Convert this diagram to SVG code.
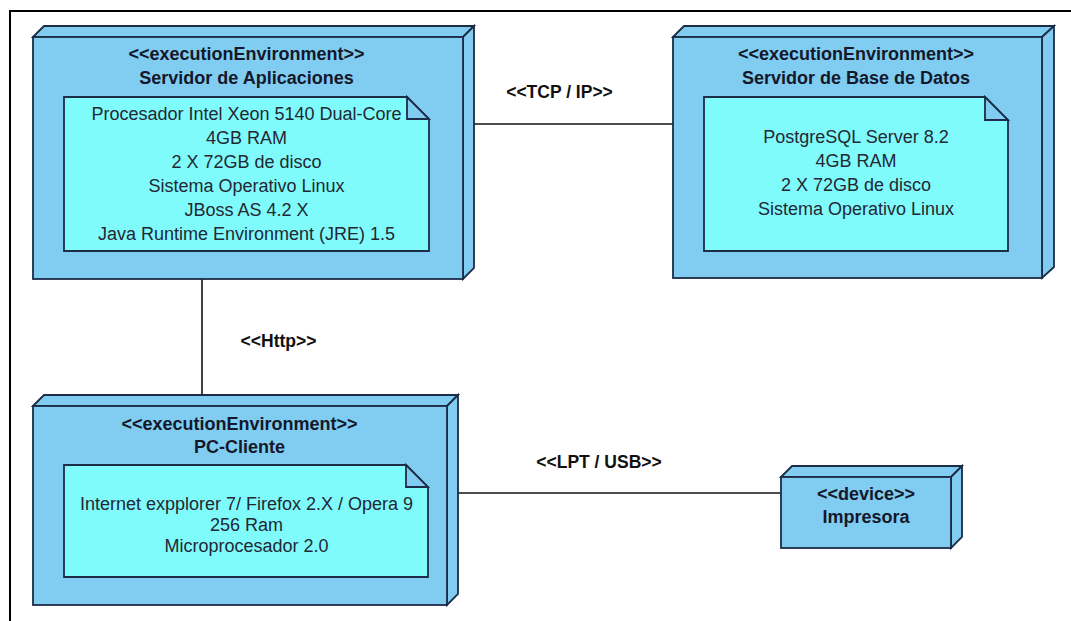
<svg xmlns="http://www.w3.org/2000/svg" width="1071" height="621" viewBox="0 0 1071 621">
  <style>
    .face { fill: #80cdf1; stroke: #1d2c47; stroke-width: 1.8; stroke-linejoin: miter; }
    .note { fill: #80fbfc; stroke: #1d2c47; stroke-width: 1.8; }
    .fold { fill: #80cdf1; stroke: #1d2c47; stroke-width: 1.8; }
    .hd { font-family: "Liberation Sans", Arial, sans-serif; font-weight: bold; font-size: 18px; fill: #14182a; text-anchor: middle; }
    .tx { font-family: "Liberation Sans", Arial, sans-serif; font-size: 18px; fill: #232833; text-anchor: middle; }
    .lbl { font-family: "Liberation Sans", Arial, sans-serif; font-weight: bold; font-size: 17.5px; fill: #111; text-anchor: middle; }
    .wire { stroke: #111; stroke-width: 1.6; fill: none; }
    .frame { stroke: #000; stroke-width: 2; fill: none; }
  </style>

  <rect width="1071" height="621" fill="#ffffff"/>
  <!-- diagram frame -->
  <path class="frame" d="M10,621 V11 H1071"/>

  <!-- connectors -->
  <g id="connectors">
    <line class="wire" x1="474" y1="124" x2="673" y2="124"/>
    <line class="wire" x1="202" y1="279" x2="202" y2="395"/>
    <line class="wire" x1="458" y1="493" x2="781" y2="493"/>
    <text class="lbl" x="559.5" y="98">&lt;&lt;TCP / IP&gt;&gt;</text>
    <text class="lbl" x="278.5" y="347">&lt;&lt;Http&gt;&gt;</text>
    <text class="lbl" x="599" y="468">&lt;&lt;LPT / USB&gt;&gt;</text>
  </g>

  <!-- application server -->
  <g id="servidor-aplicaciones">
    <polygon class="face" points="33,37 44,26 474,26 463,37"/>
    <polygon class="face" points="463,37 474,26 474,268 463,279"/>
    <rect class="face" x="33" y="37" width="430" height="242"/>
    <text class="hd" x="246.5" y="59.5">&lt;&lt;executionEnvironment&gt;&gt;</text>
    <text class="hd" x="246.5" y="83.5">Servidor de Aplicaciones</text>
    <path class="note" d="M64,97 H407 L429,119 V251 H64 Z"/>
    <path class="fold" d="M407,97 V119 H429 Z"/>
    <text class="tx" x="246.5" y="120">Procesador Intel Xeon 5140 Dual-Core</text>
    <text class="tx" x="246.5" y="144">4GB RAM</text>
    <text class="tx" x="246.5" y="168">2 X 72GB de disco</text>
    <text class="tx" x="246.5" y="192">Sistema Operativo Linux</text>
    <text class="tx" x="246.5" y="216">JBoss AS 4.2 X</text>
    <text class="tx" x="246.5" y="240">Java Runtime Environment (JRE) 1.5</text>
  </g>

  <!-- database server -->
  <g id="servidor-base-datos">
    <polygon class="face" points="673,37 684,26 1054,26 1042,37"/>
    <polygon class="face" points="1042,37 1054,26 1054,267 1042,278"/>
    <rect class="face" x="673" y="37" width="369" height="241"/>
    <text class="hd" x="856" y="59.5">&lt;&lt;executionEnvironment&gt;&gt;</text>
    <text class="hd" x="856" y="83.5">Servidor de Base de Datos</text>
    <path class="note" d="M704,97 H985 L1008,120 V251 H704 Z"/>
    <path class="fold" d="M985,97 V120 H1008 Z"/>
    <text class="tx" x="856" y="142.5">PostgreSQL Server 8.2</text>
    <text class="tx" x="856" y="166.5">4GB RAM</text>
    <text class="tx" x="856" y="190.5">2 X 72GB de disco</text>
    <text class="tx" x="856" y="214.5">Sistema Operativo Linux</text>
  </g>

  <!-- client PC -->
  <g id="pc-cliente">
    <polygon class="face" points="33,406 44,395 458,395 447,406"/>
    <polygon class="face" points="447,406 458,395 458,594 447,605"/>
    <rect class="face" x="33" y="406" width="414" height="199"/>
    <text class="hd" x="239.5" y="429.5">&lt;&lt;executionEnvironment&gt;&gt;</text>
    <text class="hd" x="239.5" y="453">PC-Cliente</text>
    <path class="note" d="M64,465 H406 L428,487 V577 H64 Z"/>
    <path class="fold" d="M406,465 V487 H428 Z"/>
    <text class="tx" x="246.5" y="509.5">Internet expplorer 7/ Firefox 2.X / Opera 9</text>
    <text class="tx" x="246.5" y="531">256 Ram</text>
    <text class="tx" x="246.5" y="552">Microprocesador 2.0</text>
  </g>

  <!-- printer -->
  <g id="impresora">
    <polygon class="face" points="781,477 792,466 962,466 951,477"/>
    <polygon class="face" points="951,477 962,466 962,537 951,548"/>
    <rect class="face" x="781" y="477" width="170" height="71"/>
    <text class="hd" x="866" y="499.5">&lt;&lt;device&gt;&gt;</text>
    <text class="hd" x="866" y="523">Impresora</text>
  </g>
</svg>
